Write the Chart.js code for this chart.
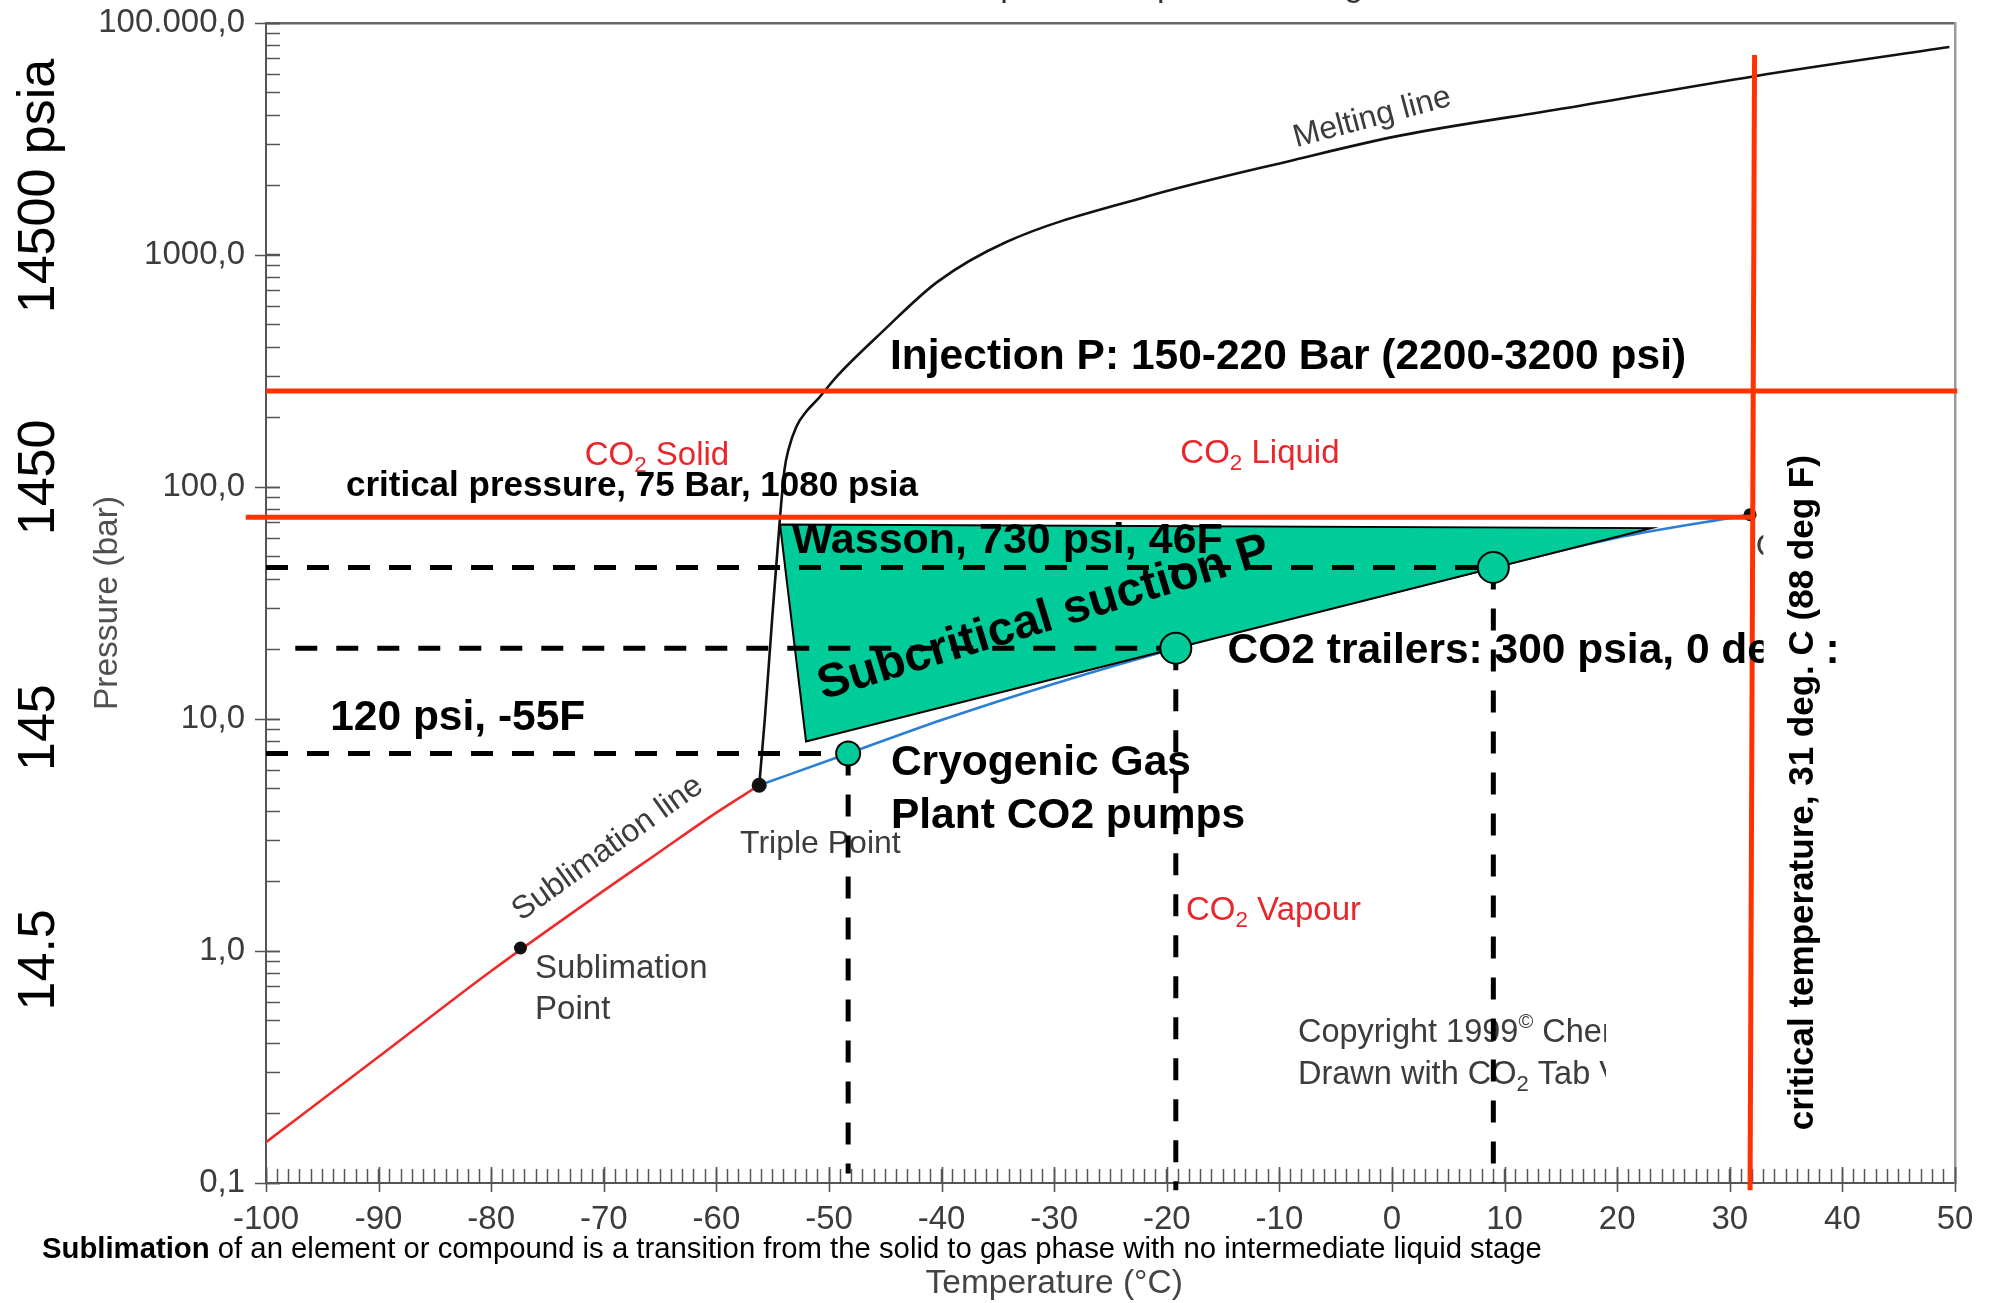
<!DOCTYPE html>
<html>
<head>
<meta charset="utf-8">
<script src="https://cdn.jsdelivr.net/npm/chart.js@4.4.1/dist/chart.umd.min.js"></script>
<style>
html,body{margin:0;padding:0;background:#fff;}
#wrap{width:1992px;height:1303px;position:relative;}
</style>
</head>
<body>
<div id="wrap"><canvas id="c"></canvas></div>
<script>
// ---------------- data ----------------
const meltT = [-56.2, -55.7, -55.1, -54.35, -53.95, -53.6, -52.9, -52.0, -51.0, -49.3, -45.3, -40.4, -34.3, -21.9, -8.7, 0.7, 15.5, 32.2, 49.5];
const meltP = [5.18, 10, 25, 74, 119, 145, 182, 212, 239, 300, 465, 764, 1135, 1780, 2570, 3270, 4300, 5900, 7880];
const sublT = [-100, -90, -80, -70, -65.4, -60, -56.2];
const sublP = [0.15, 0.35, 0.82, 1.82, 2.6, 3.95, 5.18];
const vapT = [-56.2, -48.3, -40, -30, -19.2, -10, 0, 9.0, 20, 31.8];
const vapP = [5.18, 7.1, 9.9, 14.2, 20.2, 26.5, 34.9, 45, 60.5, 76];
const pointT = [-77.4, -56.2, 31.8];          // sublimation point, triple point, critical point
const pointP = [1.03, 5.18, 76];
const zoneT = [-54.35, 23.0, -52.04, -54.35];  // subcritical suction zone
const zoneP = [69, 66.5, 8.0, 69];
const opT = [-48.3, -19.2, 9.0];               // operating points
const opP = [7.1, 20.2, 45];
const opDashStartT = [-100, -97.4, -100];
const opDashBottomP = [0.11, 0.093, 0.1];
const injectionP = 259;
const injectionT = [-100, 50.2];
const criticalP = 74;
const criticalPT = [-101.8, 32.0];
const criticalTT = [32.2, 31.8];
const criticalTP = [7280, 0.093];
const xTickValues = [-100, -90, -80, -70, -60, -50, -40, -30, -20, -10, 0, 10, 20, 30, 40, 50];
const xTickLabels = ['-100', '-90', '-80', '-70', '-60', '-50', '-40', '-30', '-20', '-10', '0', '10', '20', '30', '40', '50'];
const yTickValues = [0.1, 1, 10, 100, 1000, 10000];
const yTickLabels = ['0,1', '1,0', '10,0', '100,0', '1000,0', '100.000,0'];
const psiLabels = ['14500 psia', '1450', '145', '14.5'];
const psiAtP = [1983, 110, 9.18, 0.916];

// ---------------- helpers ----------------
const FONT = '"Liberation Sans", Arial, Helvetica, sans-serif';
const GRAY = '#3c3c3c';
const RED_TXT = '#e8262c';
const RED_LINE = '#ff3300';
const GREEN = '#00cc99';
const pts = (T, P) => T.map((t, i) => ({x: t, y: P[i]}));

const xMinor = [];
for (let v = -100; v <= 50; v++) xMinor.push(v);
const yMinor = [];
for (let e = -1; e <= 3; e++) for (let m = 1; m <= 9; m++) yMinor.push(+(m * Math.pow(10, e)).toPrecision(6));
yMinor.push(10000);

function fontStr(size, weight) { return (weight || 'normal') + ' ' + size + 'px ' + FONT; }

function drawSegs(ctx, n, x, y) {
  ctx.save();
  ctx.translate(x, y);
  if (n.rot) ctx.rotate(n.rot * Math.PI / 180);
  ctx.fillStyle = n.color || '#000';
  ctx.textBaseline = 'alphabetic';
  ctx.textAlign = 'left';
  const segs = n.segs.map(s => {
    const sz = s.mode === 'sub' ? n.size * 0.68 : s.mode === 'sup' ? n.size * 0.62 : n.size;
    const f = fontStr(sz, s.w || n.weight);
    ctx.font = f;
    return {t: s.t, f, w: ctx.measureText(s.t).width, dy: s.mode === 'sub' ? n.size * 0.22 : s.mode === 'sup' ? -n.size * 0.42 : 0};
  });
  const total = segs.reduce((a, s) => a + s.w, 0);
  const sc = (n.maxW && total > n.maxW) ? n.maxW / total : 1;
  ctx.scale(sc, 1);
  let cx = n.align === 'center' ? -total / 2 : (n.align === 'right' ? -total : 0);
  for (const s of segs) { ctx.font = s.f; ctx.fillText(s.t, cx, s.dy); cx += s.w; }
  ctx.restore();
}

const notes = [
  // under the data
  {layer: 'under', segs: [{t: 'Melting line'}], T: -8.5, P: 2917, size: 32, color: GRAY, rot: -15},
  {layer: 'under', segs: [{t: 'Sublimation line'}], T: -77.35, P: 1.34, size: 32, color: GRAY, rot: -35.6},
  {layer: 'under', segs: [{t: 'Sublimation'}], T: -76.1, P: 0.766, size: 33, color: GRAY},
  {layer: 'under', segs: [{t: 'Point'}], T: -76.1, P: 0.51, size: 33, color: GRAY},
  {layer: 'under', segs: [{t: 'Triple Point'}], T: -57.9, P: 2.65, size: 32, color: GRAY},
  {layer: 'under', segs: [{t: 'Copyright 1999'}, {t: '©', mode: 'sup'}, {t: ' Chemicalogic Corporation'}], T: -8.35, P: 0.406, size: 32.5, color: GRAY, clipT: 19},
  {layer: 'under', segs: [{t: 'Drawn with CO'}, {t: '2', mode: 'sub'}, {t: ' Tab Version 1.0'}], T: -8.35, P: 0.267, size: 32.5, color: GRAY, clipT: 19},
  {layer: 'under', segs: [{t: 'Critical Point'}], T: 32.3, P: 50.2, size: 32, color: GRAY, clipT: 33.0},
  {layer: 'under', segs: [{t: 'CO'}, {t: '2', mode: 'sub'}, {t: ' Solid'}], T: -71.7, P: 125, size: 33, color: RED_TXT},
  {layer: 'under', segs: [{t: 'CO'}, {t: '2', mode: 'sub'}, {t: ' Liquid'}], T: -18.8, P: 127, size: 33, color: RED_TXT},
  {layer: 'under', segs: [{t: 'CO'}, {t: '2', mode: 'sub'}, {t: ' Vapour'}], T: -18.3, P: 1.36, size: 33, color: RED_TXT},
  // over the data
  {layer: 'over', segs: [{t: 'Injection P: 150-220 Bar (2200-3200 psi)'}], T: -44.58, P: 321, size: 42.5, weight: 'bold', maxW: 805},
  {layer: 'over', segs: [{t: 'critical pressure, 75 Bar, 1080 psia'}], T: -92.9, P: 91.1, size: 35, weight: 'bold', maxW: 572},
  {layer: 'over', segs: [{t: 'Wasson, 730 psi, 46F'}], T: -53.3, P: 52.2, size: 43, weight: 'bold', maxW: 432},
  {layer: 'over', segs: [{t: 'Subcritical suction P'}], T: -50.53, P: 12.1, size: 47.5, weight: 'bold', rot: -17},
  {layer: 'over', segs: [{t: '120 psi, -55F'}], T: -94.3, P: 9.0, size: 42.5, weight: 'bold', maxW: 258},
  {layer: 'over', segs: [{t: 'Cryogenic Gas'}], T: -44.5, P: 5.75, size: 42.5, weight: 'bold', maxW: 303},
  {layer: 'over', segs: [{t: 'Plant CO2 pumps'}], T: -44.5, P: 3.40, size: 42.5, weight: 'bold', maxW: 356},
  {layer: 'over', segs: [{t: 'CO2 trailers: 300 psia, 0 de'}], T: -14.6, P: 17.5, size: 42.5, weight: 'bold', maxW: 545},
  // on top of the white label box
  {layer: 'top', segs: [{t: 'critical temperature, 31 deg. C (88 deg F)'}], T: 37.4, P: 0.169, size: 35, weight: 'bold', rot: -90, maxW: 680},
  {layer: 'top', segs: [{t: ':'}], T: 38.5, P: 17.5, size: 42.5, weight: 'bold'}
];
const labelBoxT = [33.0, 38.4];
const labelBoxP = [141, 0.158];

function drawNotes(chart, layer) {
  const {ctx, scales: {x: xs, y: ys}} = chart;
  for (const n of notes) {
    if (n.layer !== layer) continue;
    ctx.save();
    if (n.clipT !== undefined) {
      ctx.beginPath();
      ctx.rect(0, 0, xs.getPixelForValue(n.clipT), chart.height);
      ctx.clip();
    }
    drawSegs(ctx, n, xs.getPixelForValue(n.T), ys.getPixelForValue(n.P));
    ctx.restore();
  }
}

const annotPlugin = {
  id: 'annot',
  beforeDatasetsDraw(chart) { drawNotes(chart, 'under'); },
  afterDatasetsDraw(chart) {
    const {ctx, chartArea: ca, scales: {x: xs, y: ys}} = chart;
    drawNotes(chart, 'over');
    // white label box
    const bx0 = xs.getPixelForValue(labelBoxT[0]), bx1 = xs.getPixelForValue(labelBoxT[1]);
    const by0 = ys.getPixelForValue(labelBoxP[0]), by1 = ys.getPixelForValue(labelBoxP[1]);
    ctx.save(); ctx.fillStyle = '#fff'; ctx.fillRect(bx0, by0, bx1 - bx0, by1 - by0); ctx.restore();
    drawNotes(chart, 'top');
    // big psi labels at left
    psiLabels.forEach((t, i) => {
      drawSegs(ctx, {segs: [{t}], size: 52, color: '#000', rot: -90, align: 'center'}, ca.left - 212, ys.getPixelForValue(psiAtP[i]));
    });
    // x axis title
    drawSegs(ctx, {segs: [{t: 'Temperature (°C)'}], size: 33.5, color: '#444', align: 'center'}, xs.getPixelForValue(-30), ca.bottom + 110);
    // definition sentence
    drawSegs(ctx, {segs: [{t: 'Sublimation', w: 'bold'}, {t: ' of an element or compound is a transition from the solid to gas phase with no intermediate liquid stage'}], size: 29.3, color: '#000', maxW: 1505}, 42, ca.bottom + 75);
    // chart title (mostly above the canvas)
    drawSegs(ctx, {segs: [{t: 'Carbon dioxide: '}], size: 34, color: '#333', align: 'right'}, xs.getPixelForValue(-40.5), ca.top - 27);
    drawSegs(ctx, {segs: [{t: 'Temperature - pressure diagram'}], size: 34, color: '#333'}, xs.getPixelForValue(-40.5), ca.top - 27);
  },
  afterDraw(chart) {
    const {ctx, chartArea: ca, scales: {x: xs, y: ys}} = chart;
    ctx.save();
    ctx.strokeStyle = '#555'; ctx.lineWidth = 1.6;
    ctx.beginPath();
    yTickValues.forEach(v => { const y = Math.round(ys.getPixelForValue(v)) + 0.5; ctx.moveTo(ca.left - 11, y); ctx.lineTo(ca.left + 14, y); });
    xTickValues.forEach(v => { const x = Math.round(xs.getPixelForValue(v)) + 0.5; ctx.moveTo(x, ca.bottom - 16); ctx.lineTo(x, ca.bottom + 9); });
    ctx.stroke();
    ctx.restore();
  }
};

// ---------------- datasets ----------------
const curve = (data, color, order) => ({data, showLine: true, borderColor: color, borderWidth: 2.6, pointRadius: 0, cubicInterpolationMode: 'monotone', order});
const datasets = [
  curve(pts(sublT, sublP), '#ee2a2a', 20),
  curve(pts(vapT, vapP), '#2a7fd4', 20),
  curve(pts(meltT, meltP), '#111', 20),
  {data: pts(zoneT, zoneP), showLine: true, fill: 'shape', backgroundColor: GREEN, borderColor: '#000', borderWidth: 2, pointRadius: 0, tension: 0, order: 15}
];
opT.forEach((t, i) => {
  datasets.push({data: [{x: opDashStartT[i], y: opP[i]}, {x: t, y: opP[i]}], showLine: true, borderColor: '#000', borderWidth: 5, borderDash: [22, 19], borderCapStyle: 'butt', pointRadius: 0, clip: false, order: 12});
  datasets.push({data: [{x: t, y: opP[i]}, {x: t, y: opDashBottomP[i]}], showLine: true, borderColor: '#000', borderWidth: 5, borderDash: [22, 19], borderCapStyle: 'butt', pointRadius: 0, clip: false, order: 12});
});
datasets.push({data: pts(opT, opP), showLine: false, pointRadius: [12, 15.5, 15.5], pointHoverRadius: 0, pointBackgroundColor: GREEN, pointBorderColor: '#000', pointBorderWidth: 2, order: 10});
datasets.push({data: pts(pointT, pointP), showLine: false, pointRadius: [6.5, 7.5, 6.5], pointBackgroundColor: '#111', pointBorderColor: '#111', pointBorderWidth: 0, order: 9});
datasets.push({data: [{x: injectionT[0], y: injectionP}, {x: injectionT[1], y: injectionP}], showLine: true, borderColor: RED_LINE, borderWidth: 5, pointRadius: 0, clip: false, order: 5});
datasets.push({data: [{x: criticalPT[0], y: criticalP}, {x: criticalPT[1], y: criticalP}], showLine: true, borderColor: RED_LINE, borderWidth: 5, pointRadius: 0, clip: false, order: 5});
datasets.push({data: pts(criticalTT, criticalTP), showLine: true, borderColor: RED_LINE, borderWidth: 5, pointRadius: 0, clip: false, order: 5});

// ---------------- chart ----------------
Chart.defaults.font.family = FONT;
new Chart(document.getElementById('c'), {
  type: 'scatter',
  data: {datasets},
  options: {
    responsive: true,
    maintainAspectRatio: false,
    animation: false,
    events: [],
    layout: {padding: {top: 23, right: 37, left: 0, bottom: 0}},
    plugins: {legend: {display: false}, tooltip: {enabled: false}},
    scales: {
      x: {
        type: 'linear', position: 'bottom', min: -100, max: 50,
        afterBuildTicks: s => { s.ticks = xMinor.map(v => ({value: v})); },
        afterFit: s => { s.height = 120; s.paddingLeft = 0; s.paddingRight = 0; },
        ticks: {autoSkip: false, maxRotation: 0, minRotation: 0, padding: 31, color: GRAY, font: {size: 33},
          callback: v => { const i = xTickValues.indexOf(v); return i >= 0 ? xTickLabels[i] : ''; }},
        grid: {drawOnChartArea: false, drawTicks: true, tickLength: -14, tickColor: '#555', tickWidth: 1.5},
        border: {display: true, color: '#555', width: 2}
      },
      y: {
        type: 'logarithmic', position: 'left', min: 0.1, max: 10000,
        afterBuildTicks: s => { s.ticks = yMinor.map(v => ({value: v})); },
        afterFit: s => { s.width = 266; s.paddingTop = 0; s.paddingBottom = 0; },
        ticks: {autoSkip: false, padding: 35, color: GRAY, font: {size: 33},
          callback: v => { const i = yTickValues.findIndex(t => Math.abs(t - v) / t < 1e-6); return i >= 0 ? yTickLabels[i] : ''; }},
        grid: {drawOnChartArea: false, drawTicks: true, tickLength: -14, tickColor: '#555', tickWidth: 1.5},
        border: {display: true, color: '#555', width: 2},
        title: {display: true, text: 'Pressure (bar)', color: '#505050', font: {size: 33.5}, padding: {top: 88, bottom: 0}}
      },
      x2: {
        type: 'linear', position: 'top', min: -100, max: 50,
        afterFit: s => { s.height = 0; s.paddingLeft = 0; s.paddingRight = 0; },
        ticks: {display: false}, grid: {drawOnChartArea: false, drawTicks: false},
        border: {display: true, color: '#666', width: 2.5}
      },
      y2: {
        type: 'linear', position: 'right', min: 0, max: 1,
        afterFit: s => { s.width = 0; s.paddingTop = 0; s.paddingBottom = 0; },
        ticks: {display: false}, grid: {drawOnChartArea: false, drawTicks: false},
        border: {display: true, color: '#9a9a9a', width: 2.5}
      }
    }
  },
  plugins: [annotPlugin]
});
</script>
</body>
</html>
